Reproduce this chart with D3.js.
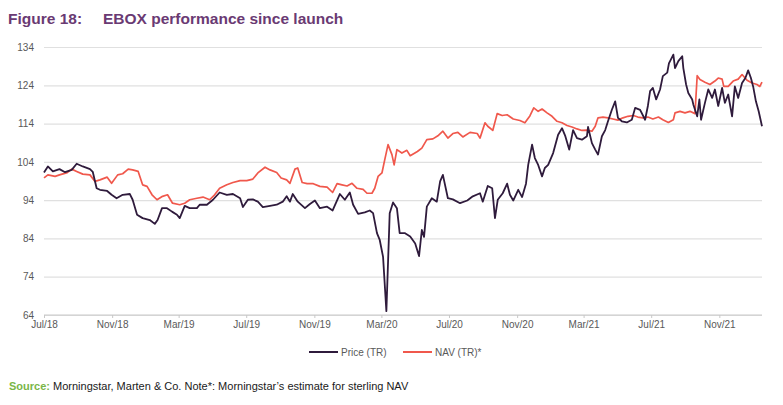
<!DOCTYPE html>
<html>
<head>
<meta charset="utf-8">
<script src="https://cdn.jsdelivr.net/npm/d3@7"></script>
<style>
  body { margin: 0; background: #fff; }
  svg { font-family: "Liberation Sans", Arial, sans-serif; }
</style>
</head>
<body>
<div id="chart"></div>
<script>
// EBOX price and NAV, total return, rebased to 100 at launch
var priceDates = ["2018-07-01","2018-07-08","2018-07-17","2018-07-29","2018-08-08","2018-08-20","2018-08-29","2018-09-09","2018-09-22","2018-09-27",
  "2018-10-04","2018-10-10","2018-10-23","2018-10-31","2018-11-09","2018-11-20","2018-12-03","2018-12-08","2018-12-16","2018-12-26",
  "2019-01-08","2019-01-17","2019-01-22","2019-01-30","2019-02-08","2019-02-17","2019-02-26","2019-03-03","2019-03-12","2019-03-21",
  "2019-04-03","2019-04-08","2019-04-21","2019-05-02","2019-05-14","2019-05-27","2019-06-07","2019-06-20","2019-06-25","2019-07-04",
  "2019-07-13","2019-07-22","2019-07-31","2019-08-13","2019-08-25","2019-09-05","2019-09-12","2019-09-18","2019-09-23","2019-10-02",
  "2019-10-15","2019-10-24","2019-11-02","2019-11-11","2019-11-24","2019-12-04","2019-12-17","2019-12-26","2020-01-04","2020-01-10",
  "2020-01-19","2020-01-31","2020-02-09","2020-02-15","2020-02-22","2020-02-27","2020-03-04","2020-03-10","2020-03-16","2020-03-22",
  "2020-03-29","2020-04-03","2020-04-12","2020-04-22","2020-05-01","2020-05-08","2020-05-13","2020-05-17","2020-05-22","2020-05-31",
  "2020-06-09","2020-06-15","2020-06-20","2020-06-29","2020-07-08","2020-07-21","2020-08-03","2020-08-13","2020-08-26","2020-08-31",
  "2020-09-09","2020-09-17","2020-09-22","2020-09-27","2020-10-06","2020-10-14","2020-10-19","2020-10-25","2020-11-03","2020-11-10",
  "2020-11-17","2020-11-21","2020-11-28","2020-12-03","2020-12-09","2020-12-16","2020-12-21","2020-12-27","2021-01-05","2021-01-14",
  "2021-01-21","2021-01-27","2021-02-03","2021-02-10","2021-02-17","2021-02-26","2021-03-07","2021-03-09","2021-03-16","2021-03-22",
  "2021-03-27","2021-04-03","2021-04-09","2021-04-14","2021-04-21","2021-04-27","2021-05-02","2021-05-09","2021-05-18","2021-05-27",
  "2021-06-02","2021-06-11","2021-06-20","2021-06-25","2021-06-29","2021-07-04","2021-07-10","2021-07-17","2021-07-22","2021-07-30",
  "2021-08-02","2021-08-10","2021-08-13","2021-08-19","2021-08-26","2021-08-28","2021-09-02","2021-09-06","2021-09-13","2021-09-15",
  "2021-09-22","2021-09-26","2021-09-29","2021-10-06","2021-10-12","2021-10-19","2021-10-24","2021-10-30","2021-11-06","2021-11-11",
  "2021-11-17","2021-11-24","2021-11-29","2021-12-05","2021-12-12","2021-12-18","2021-12-23","2021-12-28","2022-01-01","2022-01-06",
  "2022-01-11","2022-01-17"];
var priceValues = [101.2,102.8,101.5,102.1,101.3,101.9,103.5,102.8,102.1,101.4,
  97.1,96.7,96.4,95.4,94.5,95.4,95.6,94.1,90.2,89.3,
  88.8,87.8,88.8,91.9,91.9,91.0,90.2,89.3,92.5,91.9,
  91.9,92.8,92.8,94.1,96.0,95.4,95.6,94.5,92.2,94.1,
  94.2,93.6,92.2,92.5,92.8,93.6,95.0,93.6,95.6,93.6,
  91.9,93.0,93.9,91.9,92.3,91.3,95.6,94.1,96.0,92.8,
  90.4,90.8,91.3,90.6,85.4,83.6,79.2,65.0,90.6,93.4,
  91.9,85.4,85.4,84.5,82.7,79.4,86.2,84.4,92.3,94.5,
  93.6,98.9,100.6,94.5,94.2,93.2,93.9,95.0,95.8,93.6,
  97.7,97.1,89.3,94.1,95.8,98.3,95.4,93.9,96.7,94.8,
  98.3,103.2,108.5,105.0,103.2,100.2,102.4,103.2,106.3,111.1,
  112.8,110.7,107.2,112.3,110.2,109.8,110.7,113.1,108.9,107.2,
  105.9,110.7,112.3,114.6,117.6,119.8,115.5,114.6,114.3,115.0,
  118.1,117.6,115.0,118.6,122.5,123.3,120.3,122.9,126.4,127.3,
  129.7,132.0,128.5,130.3,131.6,128.5,124.2,122.0,120.3,119.0,
  115.9,120.3,115.0,119.4,122.9,120.7,122.9,118.6,123.3,119.4,
  121.6,115.9,123.7,120.7,124.6,125.9,127.9,125.9,123.7,119.8,
  117.2,113.3];

var navDates = ["2018-07-01","2018-07-08","2018-07-21","2018-07-29","2018-08-12","2018-08-20","2018-08-29","2018-09-09","2018-09-22","2018-10-01",
  "2018-10-10","2018-10-23","2018-10-31","2018-11-11","2018-11-20","2018-11-30","2018-12-08","2018-12-18","2018-12-26","2019-01-03",
  "2019-01-12","2019-01-21","2019-01-31","2019-02-09","2019-02-18","2019-03-03","2019-03-12","2019-03-21","2019-04-03","2019-04-14",
  "2019-04-26","2019-05-05","2019-05-14","2019-05-27","2019-06-07","2019-06-20","2019-07-02","2019-07-13","2019-07-22","2019-08-04",
  "2019-08-13","2019-08-25","2019-09-02","2019-09-12","2019-09-18","2019-09-27","2019-10-02","2019-10-10","2019-10-19","2019-10-30",
  "2019-11-11","2019-11-24","2019-12-04","2019-12-12","2019-12-21","2019-12-30","2020-01-08","2020-01-17","2020-01-28","2020-02-04",
  "2020-02-13","2020-02-18","2020-02-24","2020-03-02","2020-03-07","2020-03-13","2020-03-20","2020-03-24","2020-03-29","2020-04-07",
  "2020-04-16","2020-04-22","2020-05-05","2020-05-13","2020-05-22","2020-06-02","2020-06-11","2020-06-20","2020-06-29","2020-07-08",
  "2020-07-17","2020-07-26","2020-08-08","2020-08-21","2020-08-26","2020-09-04","2020-09-09","2020-09-18","2020-09-26","2020-10-05",
  "2020-10-14","2020-10-25","2020-11-06","2020-11-15","2020-11-24","2020-12-01","2020-12-09","2020-12-16","2020-12-25","2021-01-03",
  "2021-01-12","2021-01-21","2021-01-30","2021-02-08","2021-02-17","2021-02-26","2021-03-07","2021-03-16","2021-03-22","2021-03-27",
  "2021-04-05","2021-04-14","2021-04-23","2021-05-02","2021-05-11","2021-05-20","2021-05-30","2021-06-07","2021-06-16","2021-06-25",
  "2021-07-04","2021-07-14","2021-07-22","2021-08-01","2021-08-10","2021-08-13","2021-08-22","2021-08-31","2021-09-09","2021-09-18",
  "2021-09-22","2021-09-27","2021-10-06","2021-10-15","2021-10-24","2021-10-30","2021-11-06","2021-11-09","2021-11-17","2021-11-26",
  "2021-12-05","2021-12-12","2021-12-21","2021-12-30","2022-01-08","2022-01-13","2022-01-17"];
var navValues = [99.8,100.6,100.2,100.6,101.2,102.1,101.5,100.8,100.6,98.9,
  99.3,100.0,98.4,100.6,100.9,102.1,101.9,101.5,98.0,97.6,
  95.4,94.1,95.0,95.4,93.2,92.8,93.2,94.1,94.5,94.8,
  94.1,95.4,97.1,98.0,98.6,99.1,99.1,99.5,101.1,102.6,
  101.9,101.2,99.8,99.3,98.4,102.1,102.4,98.6,98.3,98.3,
  97.6,97.4,96.0,98.3,98.0,97.7,98.4,97.1,96.8,95.8,
  95.8,97.1,100.2,101.1,104.5,108.5,105.9,103.2,107.2,106.3,
  107.0,105.6,106.7,107.6,109.8,110.0,110.8,112.0,110.2,111.4,
  111.7,110.5,111.7,111.4,110.2,114.2,113.3,112.2,116.6,116.1,
  116.3,115.2,114.8,114.2,116.0,118.1,117.2,117.8,116.8,115.9,
  114.6,114.2,113.5,113.1,112.6,112.2,112.3,112.0,113.3,115.5,
  115.7,115.5,115.2,114.9,115.5,115.9,116.1,115.7,115.5,115.7,
  115.2,115.7,115.0,114.3,115.0,116.8,117.2,116.8,117.2,116.6,
  126.5,125.5,124.8,124.2,125.1,125.9,125.6,123.7,123.7,125.1,
  125.6,126.8,125.3,124.6,124.2,123.7,124.8];

var yTicks = [64, 74, 84, 94, 104, 114, 124, 134];
var xTickMonths = ["2018-07-01","2018-11-01","2019-03-01","2019-07-01","2019-11-01","2020-03-01",
  "2020-07-01","2020-11-01","2021-03-01","2021-07-01","2021-11-01"];
var seriesNames = ["Price (TR)", "NAV (TR)*"];
var seriesColors = ["#2f1b3c", "#f0584c"];

var W = 783, H = 405;
var plotLeft = 44, plotRight = 762, plotTop = 47, plotBottom = 315;
var parse = d3.timeParse("%Y-%m-%d");

var x = d3.scaleTime()
  .domain([parse("2018-07-01"), parse("2022-01-17")])
  .range([plotLeft, plotRight]);
var y = d3.scaleLinear().domain([64, 134]).range([plotBottom, plotTop]);

var svg = d3.select("#chart").append("svg")
  .attr("width", W).attr("height", H);

// title
svg.append("text").attr("x", 8).attr("y", 24)
  .attr("font-size", 15.5).attr("font-weight", "bold").attr("fill", "#6a3a73")
  .text("Figure 18:");
svg.append("text").attr("x", 103).attr("y", 24)
  .attr("font-size", 15.5).attr("font-weight", "bold").attr("fill", "#6a3a73")
  .text("EBOX performance since launch");

// y grid + labels
var yAxis = svg.append("g").attr("transform", "translate(" + plotLeft + ",0)")
  .call(d3.axisLeft(y).tickValues(yTicks).tickSize(-(plotRight - plotLeft)).tickPadding(10).tickFormat(d3.format("d")));
yAxis.select(".domain").remove();
yAxis.selectAll(".tick line").attr("stroke", "#e0e0e0").attr("stroke-width", 1.2);
yAxis.selectAll(".tick text").attr("fill", "#595959").attr("font-size", 10)
  .attr("font-family", "Liberation Sans, Arial, sans-serif");

// x axis
var xAxis = svg.append("g").attr("transform", "translate(0," + plotBottom + ")")
  .call(d3.axisBottom(x).tickValues(xTickMonths.map(parse)).tickSize(3).tickPadding(3)
    .tickFormat(d3.timeFormat("%b/%y")));
xAxis.select(".domain").attr("stroke", "#c8c8c8").attr("d", "M" + plotLeft + ",0H" + plotRight);
xAxis.selectAll(".tick line").attr("stroke", "#c8c8c8");
xAxis.selectAll(".tick text").attr("fill", "#595959").attr("font-size", 10)
  .attr("font-family", "Liberation Sans, Arial, sans-serif");

var line = d3.line()
  .x(function(d) { return x(d.date); })
  .y(function(d) { return y(d.value); });

function toSeries(dates, values) {
  return dates.map(function(s, i) { return { date: parse(s), value: values[i] }; });
}

svg.append("path").datum(toSeries(navDates, navValues))
  .attr("fill", "none").attr("stroke", seriesColors[1]).attr("stroke-width", 1.7)
  .attr("stroke-linejoin", "round").attr("d", line);
svg.append("path").datum(toSeries(priceDates, priceValues))
  .attr("fill", "none").attr("stroke", seriesColors[0]).attr("stroke-width", 1.8)
  .attr("stroke-linejoin", "round").attr("d", line);

// legend
var legendX = [309, 403];
seriesNames.forEach(function(name, i) {
  var g = svg.append("g").attr("transform", "translate(" + legendX[i] + ",352)");
  g.append("line").attr("x1", 0).attr("x2", 29).attr("y1", 0).attr("y2", 0)
    .attr("stroke", seriesColors[i]).attr("stroke-width", 2);
  g.append("text").attr("x", 32).attr("y", 3.5).attr("font-size", 10).attr("fill", "#595959").text(name);
});

// source
var src = svg.append("text").attr("x", 9).attr("y", 390).attr("font-size", 11);
src.append("tspan").attr("fill", "#7ab648").attr("font-weight", "bold").text("Source:");
src.append("tspan").attr("fill", "#1a1a1a")
  .text(" Morningstar, Marten & Co. Note*: Morningstar\u2019s estimate for sterling NAV");
</script>
</body>
</html>
